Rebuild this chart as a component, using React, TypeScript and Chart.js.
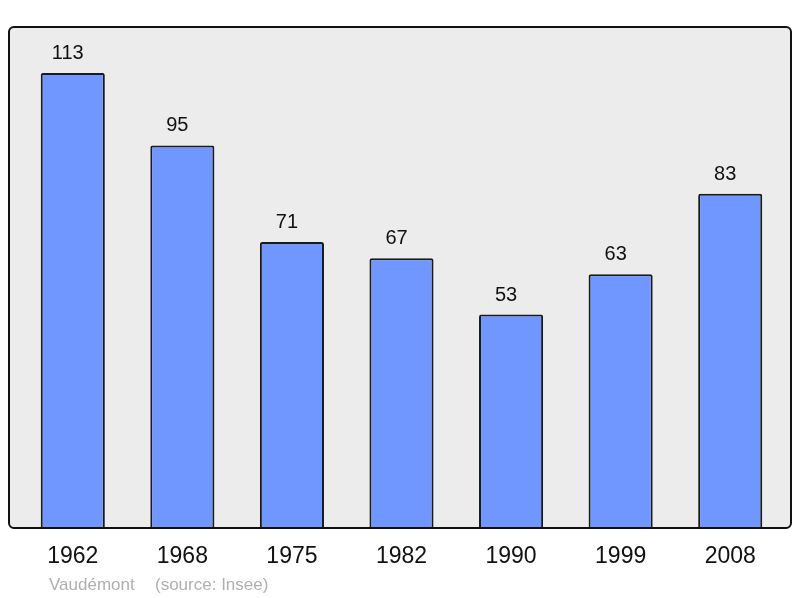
import React, { useEffect, useRef } from 'react';
import { Chart, registerables } from 'chart.js';

Chart.register(...registerables);

const years = ['1962', '1968', '1975', '1982', '1990', '1999', '2008'];
const population = [113, 95, 71, 67, 53, 63, 83];
const place = 'Vaudémont';
const source = '(source: Insee)';

const FONT = '"Liberation Sans", Arial, sans-serif';

const frame = {
  id: 'frame',
  beforeDraw(chart: any) {
    const ctx = chart.ctx;
    ctx.save();
    ctx.fillStyle = '#ececec';
    ctx.beginPath();
    ctx.roundRect(9, 27, 782, 501, 5);
    ctx.fill();
    ctx.restore();
  },
  afterDatasetsDraw(chart: any) {
    const ctx = chart.ctx;
    ctx.save();
    ctx.strokeStyle = '#111';
    ctx.lineWidth = 2;
    ctx.beginPath();
    ctx.roundRect(9, 27, 782, 501, 5);
    ctx.stroke();

    // value labels above bars (a little left of centre, as in the original)
    const meta = chart.getDatasetMeta(0);
    ctx.fillStyle = '#111';
    ctx.font = `20px ${FONT}`;
    ctx.textAlign = 'center';
    ctx.textBaseline = 'alphabetic';
    meta.data.forEach((bar: any, i: number) => {
      ctx.fillText(String(population[i]), bar.x - 5, bar.y - 14);
    });

    // footer
    ctx.fillStyle = '#b0b0b0';
    ctx.font = `17px ${FONT}`;
    ctx.textAlign = 'left';
    ctx.fillText(place, 49, 590);
    ctx.fillText(source, 155, 590);
    ctx.restore();
  },
};

const App: React.FC = () => {
  const canvasRef = useRef<HTMLCanvasElement>(null);
  const chartRef = useRef<Chart | null>(null);

  useEffect(() => {
    document.body.style.margin = '0';
    const ctx = canvasRef.current?.getContext('2d');
    if (!ctx) return;
    if (chartRef.current) chartRef.current.destroy();

    chartRef.current = new Chart(ctx, {
      type: 'bar',
      data: {
        labels: years,
        datasets: [
          {
            data: population,
            backgroundColor: '#7097ff',
            borderColor: '#1a1a1a',
            borderWidth: 2,
            borderRadius: { topLeft: 2, topRight: 2, bottomLeft: 0, bottomRight: 0 },
            borderSkipped: 'bottom',
            categoryPercentage: 1,
            barPercentage: 0.585,
          },
        ],
      },
      options: {
        responsive: false,
        animation: false,
        layout: { padding: { left: 18, right: 15, top: 27, bottom: 0 } },
        plugins: {
          legend: { display: false },
          tooltip: { enabled: false },
        },
        scales: {
          x: {
            grid: { display: false, drawTicks: false },
            border: { display: false },
            ticks: {
              color: '#111',
              font: { family: FONT, size: 23 },
              padding: 15,
            },
            afterFit: (scale: any) => {
              scale.height = 70;
            },
          },
          y: {
            display: false,
            min: 0,
            max: 124.4,
          },
        },
      },
      plugins: [frame],
    });

    return () => {
      chartRef.current?.destroy();
      chartRef.current = null;
    };
  }, []);

  return (
    <div style={{ position: 'absolute', left: 0, top: 0, width: 800, height: 598, background: '#fff' }}>
      <canvas ref={canvasRef} width={800} height={598} />
    </div>
  );
};

export default App;
